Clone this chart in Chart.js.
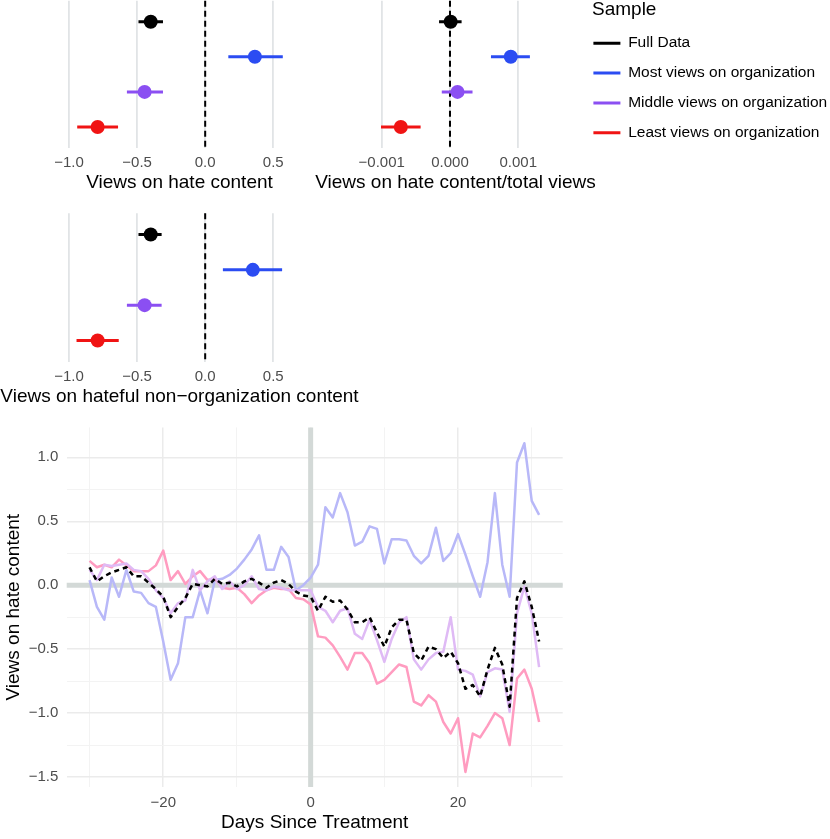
<!DOCTYPE html>
<html><head><meta charset="utf-8">
<script src="https://cdn.jsdelivr.net/npm/chart.js@4.4.1/dist/chart.umd.min.js"></script>
<style>
body{margin:0;width:830px;height:839px;position:relative;background:#fff;overflow:hidden}
canvas{position:absolute}
</style></head>
<body>
<canvas id="p1" width="359" height="200" style="left:0;top:0"></canvas>
<canvas id="p2" width="311" height="200" style="left:300px;top:0"></canvas>
<canvas id="p3" width="359" height="214" style="left:0;top:195px"></canvas>
<canvas id="legTitle" width="200" height="30" style="left:591.7px;top:0"></canvas>
<canvas id="leg" width="560" height="150" style="left:578.6px;top:21.4px"></canvas>
<canvas id="p4" width="600" height="429" style="left:0;top:410px"></canvas>
<script>
// ---------- data ----------
const groups = ['Full Data', 'Most views on organization', 'Middle views on organization', 'Least views on organization'];
const legendTitle = 'Sample';

const hateEst = [-0.40, 0.365, -0.445, -0.79];
const hateLo  = [-0.49, 0.17, -0.575, -0.94];
const hateHi  = [-0.31, 0.57, -0.31, -0.64];

const shareEst = [0.00001, 0.00089, 0.00011, -0.00072];
const shareLo  = [-0.00016, 0.00060, -0.00012, -0.00101];
const shareHi  = [0.00017, 0.00117, 0.00033, -0.00043];

const nonOrgEst = [-0.40, 0.35, -0.445, -0.79];
const nonOrgLo  = [-0.49, 0.13, -0.575, -0.945];
const nonOrgHi  = [-0.32, 0.565, -0.32, -0.635];

const hateTicks = [-1.0, -0.5, 0.0, 0.5];
const shareTicks = [-0.001, 0.0, 0.001];

const days = [-30,-29,-28,-27,-26,-25,-24,-23,-22,-21,-20,-19,-18,-17,-16,-15,-14,-13,-12,-11,-10,-9,-8,-7,-6,-5,-4,-3,-2,-1,
  0,1,2,3,4,5,6,7,8,9,10,11,12,13,14,15,16,17,18,19,20,21,22,23,24,25,26,27,28,29,30,31];

const fullDaily = [0.14,0.03,0.07,0.10,0.12,0.14,0.07,0.07,0.02,-0.03,-0.09,-0.25,-0.17,-0.10,0.01,0.00,-0.01,0.05,0.01,0.02,-0.01,0.03,0.05,0.02,-0.02,0.02,0.04,0.01,-0.05,-0.08,
  -0.09,-0.20,-0.09,-0.13,-0.12,-0.19,-0.29,-0.29,-0.25,-0.37,-0.48,-0.33,-0.27,-0.27,-0.53,-0.59,-0.48,-0.50,-0.57,-0.52,-0.61,-0.81,-0.78,-0.87,-0.66,-0.49,-0.62,-0.95,-0.10,0.03,-0.17,-0.44];

const mostDaily = [0.04,-0.17,-0.27,0.06,-0.09,0.12,-0.05,-0.06,-0.14,-0.17,-0.44,-0.74,-0.61,-0.25,-0.25,-0.04,-0.22,0.04,0.05,0.08,0.13,0.20,0.28,0.39,0.12,0.12,0.30,0.22,-0.04,0.00,
  0.06,0.16,0.61,0.53,0.72,0.57,0.31,0.34,0.46,0.44,0.17,0.36,0.36,0.35,0.23,0.17,0.23,0.45,0.19,0.25,0.40,0.24,0.07,-0.09,0.18,0.72,0.16,-0.09,0.96,1.11,0.66,0.55];

const middleDaily = [0.12,0.04,0.16,0.15,0.16,0.17,0.12,0.11,0.05,-0.04,-0.10,-0.22,-0.14,-0.12,0.12,-0.04,0.03,0.07,-0.03,0.03,-0.03,0.00,0.07,-0.03,-0.04,-0.01,-0.02,-0.04,-0.04,-0.04,
  -0.04,-0.17,-0.20,-0.29,-0.20,-0.18,-0.38,-0.42,-0.27,-0.43,-0.60,-0.42,-0.29,-0.25,-0.58,-0.66,-0.58,-0.53,-0.52,-0.25,-0.66,-0.67,-0.70,-0.87,-0.68,-0.65,-0.66,-0.99,-0.22,-0.01,-0.22,-0.64];

const leastDaily = [0.19,0.14,0.16,0.14,0.20,0.155,0.11,0.11,0.11,0.155,0.27,0.04,0.11,0.01,0.07,0.11,0.04,0.05,-0.02,-0.03,-0.02,-0.07,-0.14,-0.08,-0.04,-0.02,-0.03,-0.03,-0.10,-0.11,
  -0.15,-0.40,-0.41,-0.47,-0.56,-0.66,-0.53,-0.53,-0.61,-0.77,-0.74,-0.68,-0.62,-0.64,-0.91,-0.94,-0.86,-0.91,-1.07,-1.16,-1.04,-1.46,-1.16,-1.19,-1.10,-1.00,-1.04,-1.25,-0.73,-0.66,-0.81,-1.07];

const dayTicks = [-30, -20, -10, 0, 10, 20, 30];
const dayLabels = [-20, 0, 20];
const valTicks = [-1.5, -1.25, -1.0, -0.75, -0.5, -0.25, 0, 0.25, 0.5, 0.75, 1.0];
const valLabels = [-1.5, -1.0, -0.5, 0, 0.5, 1.0];

// ---------- styles ----------
const FONT = '"Liberation Sans", Arial, Helvetica, sans-serif';
Chart.defaults.font.family = FONT;
Chart.defaults.animation = false;
const dotColors = ['#000000', '#2b4cf2', '#8b4ff2', '#f01414'];
const lineColors = ['#000000', '#b8b8f8', '#dfbaf5', '#ff9cc0'];
const minus = v => (v < -1e-12 ? '\u2212' : '') + Math.abs(v);
const fmt = d => v => (v < -1e-12 ? '\u2212' : '') + Math.abs(v).toFixed(d);
const TITLE_SIZE = 19;

const zeroDash = {
  id: 'zeroDash',
  beforeDatasetsDraw(chart) {
    const {ctx, chartArea: a, scales: {x}} = chart;
    const px = x.getPixelForValue(0);
    ctx.save();
    ctx.strokeStyle = '#000'; ctx.lineWidth = 2; ctx.setLineDash([6, 4]);
    ctx.beginPath(); ctx.moveTo(px, a.top); ctx.lineTo(px, a.bottom); ctx.stroke();
    ctx.restore();
  }
};

function forest(id, est, lo, hi, xmin, xmax, ticks, digits, title, g) {
  const ds = [{
    data: est.map((v, i) => ({x: v, y: i + 1})),
    pointRadius: 7, pointHoverRadius: 7,
    pointBackgroundColor: dotColors, pointBorderWidth: 0, showLine: false
  }];
  groups.forEach((name, i) => {
    ds.push({
      data: [{x: lo[i], y: i + 1}, {x: hi[i], y: i + 1}],
      showLine: true, borderColor: dotColors[i], borderWidth: 3, pointRadius: 0, borderCapStyle: 'butt'
    });
  });
  new Chart(document.getElementById(id), {
    type: 'scatter',
    data: {datasets: ds},
    plugins: [zeroDash],
    options: {
      responsive: false,
      layout: {autoPadding: false, padding: {top: g.top, left: 0, right: 0, bottom: 0}},
      plugins: {
        legend: {display: false}, tooltip: {enabled: false},
        title: {display: true, position: 'bottom', text: title, color: '#000',
          font: {family: FONT, size: TITLE_SIZE, weight: 'normal'}, padding: {top: 0, bottom: g.tb}}
      },
      scales: {
        x: {
          type: 'linear', min: xmin, max: xmax,
          afterBuildTicks: s => { s.ticks = ticks.map(v => ({value: v})); },
          afterFit: s => { s.height = g.axisH; },
          grid: {color: '#e1e4e6', lineWidth: 1.8, drawTicks: false},
          border: {display: false},
          ticks: {padding: 6, color: '#4d4d4d', font: {size: 15}, callback: fmt(digits), maxRotation: 0, autoSkip: false}
        },
        y: {
          type: 'linear', min: 0.4, max: 4.6, reverse: true, position: 'left',
          grid: {display: false}, border: {display: false}, ticks: {display: false},
          afterFit: s => { s.width = g.leftW; }
        },
        yR: {
          type: 'linear', position: 'right',
          grid: {display: false}, border: {display: false}, ticks: {display: false},
          afterFit: s => { s.width = g.rightW; }
        }
      }
    }
  });
}

forest('p1', hateEst, hateLo, hateHi, -1.015, 0.645, hateTicks, 1, 'Views on hate content',
  {top: 0.7, tb: 5.6, axisH: 23.6, leftW: 67, rightW: 66});
forest('p2', shareEst, shareLo, shareHi, -0.00112, 0.00128, shareTicks, 3, 'Views on hate content/total views',
  {top: 0.7, tb: 5.6, axisH: 23.6, leftW: 73.5, rightW: 73.6});
forest('p3', nonOrgEst, nonOrgLo, nonOrgHi, -1.015, 0.645, hateTicks, 1, 'Views on hateful non\u2212organization content',
  {top: 18.3, tb: 0.9, axisH: 23.6, leftW: 67, rightW: 66});

// ---------- legend ----------
new Chart(document.getElementById('legTitle'), {
  type: 'line',
  data: {datasets: []},
  options: {
    responsive: false,
    layout: {autoPadding: false, padding: 0},
    scales: {x: {display: false}, y: {display: false}},
    plugins: {
      tooltip: {enabled: false}, legend: {display: false},
      title: {display: true, text: legendTitle, align: 'start', position: 'top', color: '#000',
        font: {family: FONT, size: TITLE_SIZE, weight: 'normal', lineHeight: 1.0}, padding: {top: 0.5, bottom: 0}}
    }
  }
});
new Chart(document.getElementById('leg'), {
  type: 'line',
  data: {datasets: groups.map((name, i) => ({label: name, data: [], backgroundColor: dotColors[i], borderColor: dotColors[i], borderWidth: 0}))},
  options: {
    responsive: false,
    layout: {autoPadding: false, padding: 0},
    scales: {x: {display: false}, y: {display: false}},
    plugins: {
      tooltip: {enabled: false},
      legend: {
        position: 'left', align: 'start',
        labels: {boxWidth: 27, boxHeight: 3, padding: 14.4, color: '#000', font: {family: FONT, size: 15.5}}
      }
    }
  }
});

// ---------- time series ----------
const refLines = {
  id: 'refLines',
  beforeDatasetsDraw(chart) {
    const {ctx, chartArea: a, scales: {x, y}} = chart;
    const px = x.getPixelForValue(0), py = y.getPixelForValue(0);
    ctx.save();
    ctx.strokeStyle = '#d3d9d7'; ctx.lineWidth = 5;
    ctx.beginPath(); ctx.moveTo(a.left, py); ctx.lineTo(a.right, py); ctx.stroke();
    ctx.beginPath(); ctx.moveTo(px, a.top); ctx.lineTo(px, a.bottom); ctx.stroke();
    ctx.restore();
  }
};
const series = [
  {label: groups[0], vals: fullDaily, color: lineColors[0], dash: [5, 4]},
  {label: groups[2], vals: middleDaily, color: lineColors[2], dash: []},
  {label: groups[3], vals: leastDaily, color: lineColors[3], dash: []},
  {label: groups[1], vals: mostDaily, color: lineColors[1], dash: []}
];
const isMajorDay = v => dayLabels.includes(v);
const isMajorVal = v => valLabels.some(l => Math.abs(l - v) < 1e-9);
new Chart(document.getElementById('p4'), {
  type: 'line',
  data: {datasets: series.map(s => ({
    label: s.label,
    data: days.map((d, i) => ({x: d, y: s.vals[i]})),
    borderColor: s.color, borderDash: s.dash, borderWidth: 2.5,
    pointRadius: 0, tension: 0, borderJoinStyle: 'round', fill: false
  }))},
  plugins: [refLines],
  options: {
    responsive: false,
    layout: {autoPadding: false, padding: {top: 17, right: 37.3, left: 0, bottom: 0}},
    plugins: {legend: {display: false}, tooltip: {enabled: false}},
    scales: {
      x: {
        type: 'linear', min: -33.1, max: 34.2,
        afterBuildTicks: s => { s.ticks = dayTicks.map(v => ({value: v})); },
        afterFit: s => { s.height = 52; },
        grid: {drawTicks: false, color: c => isMajorDay(c.tick.value) ? '#ebebeb' : '#f3f3f3',
          lineWidth: c => isMajorDay(c.tick.value) ? 1.5 : 1},
        border: {display: false},
        ticks: {padding: 6.7, color: '#4d4d4d', font: {size: 15}, maxRotation: 0, autoSkip: false,
          callback: v => isMajorDay(v) ? minus(v) : ''},
        title: {display: true, text: 'Days Since Treatment', color: '#000', font: {size: TITLE_SIZE}, padding: {top: 0, bottom: 4.9}}
      },
      y: {
        type: 'linear', min: -1.578, max: 1.234,
        afterBuildTicks: s => { s.ticks = valTicks.map(v => ({value: v})); },
        afterFit: s => { s.width = 66.7; },
        grid: {drawTicks: false, color: c => isMajorVal(c.tick.value) ? '#ebebeb' : '#f3f3f3',
          lineWidth: c => isMajorVal(c.tick.value) ? 1.5 : 1},
        border: {display: false},
        ticks: {padding: 8.4, color: '#4d4d4d', font: {size: 15}, autoSkip: false,
          callback: v => isMajorVal(v) ? fmt(1)(v) : ''},
        title: {display: true, text: 'Views on hate content', color: '#000', font: {size: TITLE_SIZE}, padding: {top: 2.6, bottom: 0}}
      }
    }
  }
});
</script>
</body></html>
